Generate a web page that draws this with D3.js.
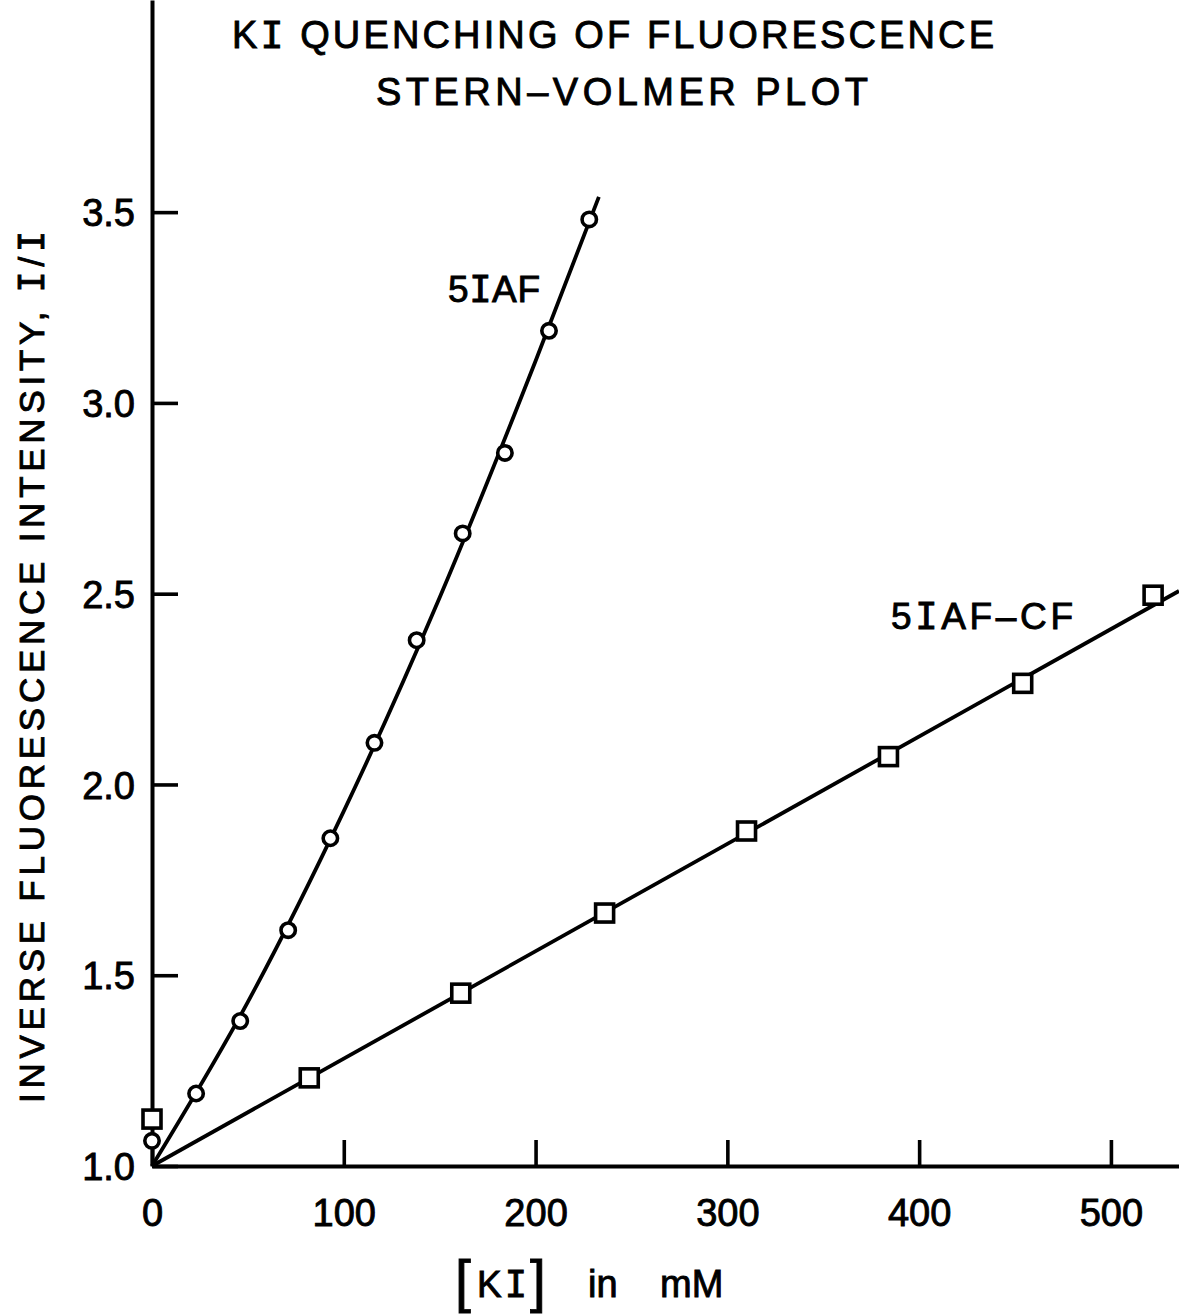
<!DOCTYPE html>
<html>
<head>
<meta charset="utf-8">
<script src="https://cdn.jsdelivr.net/npm/d3@7"></script>
<style>
  html, body { margin: 0; padding: 0; background: #fff; }
  svg { display: block; }
  text { fill: #000; stroke: #000; stroke-width: 0.9px; font-family: "Liberation Sans", Arial, sans-serif; }
</style>
</head>
<body>
<script>
// KI concentration (mM) and inverse fluorescence intensity I0/I
const iafConc   = [0, 23, 46, 71, 93, 116, 138, 162, 184, 207, 228];
const iafInv    = [1.066, 1.190, 1.380, 1.618, 1.859, 2.109, 2.378, 2.658, 2.869, 3.189, 3.481];
const cfConc    = [0, 82, 161, 236, 310, 384, 454, 522];
const cfInv     = [1.123, 1.231, 1.453, 1.663, 1.878, 2.073, 2.265, 2.496];

// drawn trend lines through each series
const iafFitConc = [0, 50, 100, 150, 200, 233];
const iafFitInv  = [1.0, 1.43, 1.93, 2.49, 3.11, 3.54];
const cfFitConc  = [0, 535.5];
const cfFitInv   = [1.0, 2.507];

const xTicks = [0, 100, 200, 300, 400, 500];
const yTicks = [1.0, 1.5, 2.0, 2.5, 3.0, 3.5];

const W = 1179, H = 1315;
const svg = d3.select("body").append("svg").attr("width", W).attr("height", H);

const x = d3.scaleLinear().domain([0, 535.5]).range([152, 1179]);
const y = d3.scaleLinear().domain([1, 4.056]).range([1166, 0]);

const ink = "#000";

// axes with inward ticks
const xAxis = svg.append("g").attr("transform", `translate(0,${y(1)})`)
  .call(d3.axisBottom(x).tickValues(xTicks).tickSize(-26).tickSizeOuter(0).tickFormat(d3.format("d")));
const yAxis = svg.append("g").attr("transform", `translate(${x(0)},0)`)
  .call(d3.axisLeft(y).tickValues(yTicks).tickSize(-26).tickSizeOuter(0).tickFormat(d3.format(".1f")));

[xAxis, yAxis].forEach(g => {
  g.select(".domain").attr("stroke", ink).attr("stroke-width", 4);
  g.selectAll(".tick line").attr("stroke", ink).attr("stroke-width", 3.6);
  g.selectAll(".tick text")
    .attr("fill", ink)
    .attr("stroke", ink)
    .attr("stroke-width", 0.9)
    .style("font-family", '"Liberation Sans", Arial, sans-serif')
    .style("font-size", "38px");
});
xAxis.selectAll(".tick text").attr("y", 60).attr("dy", 0);
yAxis.selectAll(".tick text").attr("x", -17).attr("dy", "0.36em");

// trend lines
svg.append("path")
  .datum(iafFitConc.map((c, i) => [c, iafFitInv[i]]))
  .attr("d", d3.line().x(d => x(d[0])).y(d => y(d[1])).curve(d3.curveMonotoneX))
  .attr("fill", "none").attr("stroke", ink).attr("stroke-width", 3.8);
svg.append("path")
  .datum(cfFitConc.map((c, i) => [c, cfFitInv[i]]))
  .attr("d", d3.line().x(d => x(d[0])).y(d => y(d[1])))
  .attr("fill", "none").attr("stroke", ink).attr("stroke-width", 3.8);

// hollow markers
svg.append("g").selectAll("circle")
  .data(iafConc.map((c, i) => [c, iafInv[i]]))
  .join("circle")
  .attr("cx", d => x(d[0])).attr("cy", d => y(d[1])).attr("r", 7.2)
  .attr("fill", "#fff").attr("stroke", ink).attr("stroke-width", 3.6);

const sq = 18;
svg.append("g").selectAll("rect")
  .data(cfConc.map((c, i) => [c, cfInv[i]]))
  .join("rect")
  .attr("x", d => x(d[0]) - sq / 2).attr("y", d => y(d[1]) - sq / 2)
  .attr("width", sq).attr("height", sq)
  .attr("fill", "#fff").attr("stroke", ink).attr("stroke-width", 3.6);

// serif "I" used for the iodine symbol
const serifI = '"DejaVu Sans Mono", "Liberation Mono", monospace';

function addText(parent, parts, attrs) {
  const t = parent.append("text");
  Object.entries(attrs).forEach(([k, v]) => t.attr(k, v));
  parts.forEach(p => {
    const s = t.append("tspan").text(p.t);
    if (p.serif) s.style("font-family", serifI);
  });
  return t;
}

// title
addText(svg, [{t: "K"}, {t: "I", serif: true}, {t: " QUENCHING OF FLUORESCENCE"}],
  {x: 232, y: 48, "font-size": 38, textLength: 762, lengthAdjust: "spacing"});
addText(svg, [{t: "STERN–VOLMER PLOT"}],
  {x: 376, y: 105, "font-size": 38, textLength: 492, lengthAdjust: "spacing"});

// series labels
addText(svg, [{t: "5"}, {t: "I", serif: true}, {t: "AF"}],
  {x: 448, y: 302, "font-size": 37, textLength: 92, lengthAdjust: "spacing"});
addText(svg, [{t: "5"}, {t: "I", serif: true}, {t: "AF–CF"}],
  {x: 891, y: 629, "font-size": 37, textLength: 182, lengthAdjust: "spacing"});

// y-axis title
addText(svg, [{t: "INVERSE FLUORESCENCE INTENSITY, "}, {t: "I", serif: true}, {t: "/"}, {t: "I", serif: true}],
  {transform: "translate(44,1103) rotate(-90)", "font-size": 35, textLength: 872, lengthAdjust: "spacing"});

// x-axis title
svg.append("text").attr("x", 455).attr("y", 1301).attr("font-size", 57).text("[");
addText(svg, [{t: "K"}, {t: "I", serif: true}],
  {x: 477, y: 1297, "font-size": 37, textLength: 50, lengthAdjust: "spacing"});
svg.append("text").attr("x", 530).attr("y", 1301).attr("font-size", 57).text("]");
svg.append("text").attr("x", 588).attr("y", 1297).attr("font-size", 38).text("in");
svg.append("text").attr("x", 660).attr("y", 1297).attr("font-size", 38).text("mM");
</script>
</body>
</html>
